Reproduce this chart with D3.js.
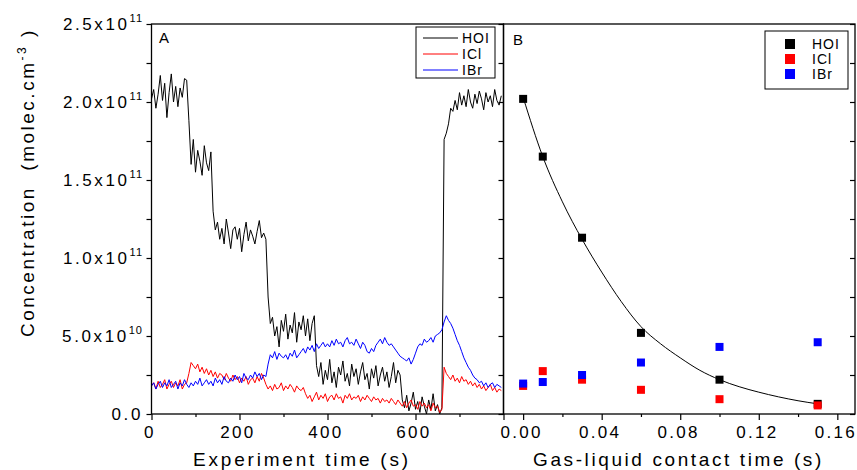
<!DOCTYPE html>
<html lang="en">
<head>
  <meta charset="UTF-8">
  <title>Concentration vs time</title>
  <script src="https://cdn.jsdelivr.net/npm/d3@7"></script>
  <style>
    body { margin: 0; background: #fff; }
    svg { display: block; font-family: "Liberation Sans", Arial, sans-serif; }
  </style>
</head>
<body>
  <div id="wrapper"></div>
  <script>
    // panel A traces, one reading every 5 s, values in 1e10 molec.cm-3
    const expTime = d3.range(0, 800, 5)
    const hoiTrace = [
      20.2, 20.8, 19.6, 20.5, 21.7, 20.1, 21.2, 19.0, 20.6, 21.8, 20.0, 21.0, 19.7, 20.9, 20.3, 21.5, 21.4,
      18.8, 16.0, 17.6, 15.5, 16.9, 16.2, 15.3, 17.2, 16.1, 15.6, 16.8,
      13.0, 11.8, 12.3, 11.2, 11.9, 10.9, 12.5, 11.6, 10.6, 11.8, 12.0, 11.2, 11.9, 10.4, 11.5, 12.3, 11.1, 11.8, 11.4, 10.9, 11.7, 12.4, 11.3, 11.6, 11.2,
      7.5, 5.8, 6.2, 5.0, 5.6, 4.3, 6.0, 5.3, 6.4, 4.8, 5.7, 5.2, 6.5, 4.6, 5.9, 5.4, 6.3, 5.0, 6.1, 4.7, 5.8, 6.3,
      3.1, 2.4, 3.3, 1.9, 2.8, 2.2, 3.5, 2.0, 2.7, 1.7, 3.0, 2.5, 3.4, 2.1, 2.6, 1.8, 3.2, 2.4, 2.9, 1.9, 2.7, 3.3, 2.2, 2.6, 1.6, 2.9, 2.3, 3.1, 1.8, 2.5, 3.0, 2.1, 2.7, 1.7, 2.4, 3.3, 2.0, 2.8, 2.5,
      0.9, 0.4, 1.2, 0.2, 0.7, 1.4, 0.3, 0.8, 0.1, 1.1, 0.5, 0.0, 0.9, 0.3, 1.3, 0.2, 0.6, 0.0, 0.4,
      17.6, 18.0, 18.6, 19.6, 19.4, 20.1, 19.5, 20.6, 19.8, 20.4, 19.7, 20.8, 20.0, 19.6, 20.5, 19.9, 20.7, 20.2, 19.5, 20.6, 20.0, 20.4, 19.7, 20.8, 20.1, 19.8, 20.4
    ]
    const iclTrace = [
      1.8, 2.0, 1.6, 2.1, 1.7, 1.9, 2.2, 1.6, 1.9, 2.1, 1.7, 2.0, 1.8, 2.2, 1.6, 1.9, 2.0,
      2.6, 3.3, 3.1,
      2.9, 3.2, 2.7, 3.0, 2.6, 2.9, 2.5, 2.8, 2.4, 2.7, 2.3, 2.6, 2.5, 2.2, 2.6, 2.3, 2.1, 2.5, 2.2, 2.4, 2.0, 2.3, 2.1, 2.4, 1.9, 2.2, 2.3, 2.0, 2.4, 2.1, 2.6, 2.3,
      1.9, 1.6, 1.8, 1.5, 1.9, 1.6, 1.7, 2.0, 1.5, 1.8, 1.6, 1.9, 1.7, 1.4, 1.8, 1.6, 1.5, 1.7,
      1.3, 1.0, 1.2, 0.8, 1.1, 1.4, 0.9, 1.2, 1.0, 1.3, 0.8, 1.1, 1.2, 0.9, 1.3, 1.0, 1.1, 0.7, 1.2, 1.0, 1.3, 0.9, 1.1, 1.0, 1.2, 0.8, 1.1, 0.9, 1.2, 1.0, 0.8, 1.1, 0.9, 1.0, 0.7, 1.0, 0.8, 0.9, 0.7, 1.0, 0.8, 0.6, 0.9,
      0.7, 0.5, 0.8, 0.4, 0.7, 0.9, 0.5, 0.6, 0.3, 0.8, 0.5, 0.7, 0.4, 0.6, 0.2, 0.7, 0.4, 0.5, 0.1, 0.3,
      3.0, 2.6, 2.4, 2.2, 2.5, 2.1, 2.3, 2.0, 2.4, 2.1, 2.2, 1.9, 2.1, 1.8, 2.0, 1.7, 1.9, 1.6, 1.8, 1.5, 1.7, 1.9, 1.5, 1.7, 1.4, 1.6, 1.5
    ]
    const ibrTrace = [
      1.8, 2.0, 1.6, 1.9, 2.1, 1.7, 2.0, 1.8, 2.2, 1.7, 1.9, 2.1, 1.6, 2.0, 1.8, 2.2, 1.9, 1.7,
      2.0, 1.8, 2.1, 1.9, 2.3, 1.8, 2.0, 2.2, 1.9, 2.1, 1.8, 2.3, 2.0, 2.2, 1.9, 2.4, 2.1, 2.0,
      2.3, 2.1, 2.5, 2.2, 2.4, 2.0, 2.6, 2.3, 2.2, 2.5, 2.3, 2.7, 2.4, 2.6, 2.2, 2.5,
      2.4, 3.2, 3.8, 3.6, 4.0, 3.5, 3.9, 3.7, 3.6,
      3.8, 3.5, 3.9, 3.7, 4.1, 3.6, 3.8, 4.0, 4.2, 3.9, 4.3, 4.1, 4.4, 4.0, 4.5, 4.2, 4.4, 4.6, 4.3,
      4.5, 4.3, 4.7, 4.4, 4.8, 4.5, 4.6, 4.3, 4.7, 4.9, 4.5, 4.6, 4.4, 4.8, 4.5, 4.2, 4.6, 4.4, 4.0, 3.9, 4.2,
      4.0, 4.4, 4.6, 4.8, 4.5, 4.9, 4.6, 4.4,
      4.5, 4.3, 4.1, 3.9, 3.7, 3.6, 3.5,
      3.4, 3.6, 3.2, 3.5, 3.9,
      4.3, 4.5, 4.4, 4.8, 4.6, 4.7, 4.9, 4.6, 5.0, 5.1,
      5.2, 5.4, 5.9, 6.3, 6.0, 5.8,
      5.5, 5.1, 4.7, 4.4, 4.0, 3.6, 3.3, 3.0, 2.8, 2.5, 2.3, 2.2,
      2.0, 2.1, 1.8, 2.0, 1.7, 1.9, 2.0, 1.7, 1.9, 1.8, 1.7
    ]

    // panel B points (s, 1e10 molec.cm-3)
    const contactTime = [0, 0.01, 0.03, 0.06, 0.10, 0.15]
    const hoiPoints = [20.2, 16.5, 11.3, 5.2, 2.2, 0.65]
    const iclPoints = [1.8, 2.75, 2.2, 1.55, 0.95, 0.55]
    const ibrPoints = [1.95, 2.05, 2.5, 3.3, 4.3, 4.6]
    const fitTime = [0, 0.01, 0.02, 0.03, 0.04, 0.05, 0.06, 0.07, 0.08, 0.09, 0.10, 0.11, 0.12, 0.13, 0.14, 0.15]
    const fitHoi = [20.3, 16.5, 13.6, 11.2, 9.1, 7.2, 5.6, 4.5, 3.6, 2.8, 2.2, 1.75, 1.4, 1.1, 0.85, 0.65]

    const yTicks = [0, 5, 10, 15, 20, 25]
    const yTickLabels = [['0.0', ''], ['5.0x10', '10'], ['1.0x10', '11'], ['1.5x10', '11'], ['2.0x10', '11'], ['2.5x10', '11']]
    const yMinorTicks = [2.5, 7.5, 12.5, 17.5, 22.5]
    const xTicksA = [0, 200, 400, 600, 800]
    const xLabelsA = ['0', '200', '400', '600', '']
    const xMinorA = [100, 300, 500, 700]
    const xTicksB = [0, 0.04, 0.08, 0.12, 0.16]
    const xLabelsB = ['0.00', '0.04', '0.08', '0.12', '0.16']
    const xMinorB = [0.02, 0.06, 0.10, 0.14]

    const species = ['HOI', 'ICl', 'IBr']
    const colors = ['#000000', '#ff0000', '#0000ff']

    const dimensions = { width: 857, height: 470, top: 24, bottom: 414, leftA: 151.5, mid: 503.5, right: 855 }

    const svg = d3.select('#wrapper')
      .append('svg')
        .attr('width', dimensions.width)
        .attr('height', dimensions.height)

    const yScale = d3.scaleLinear().domain([0, 25]).range([dimensions.bottom, dimensions.top])
    const xA = d3.scaleLinear().domain([0, 800]).range([dimensions.leftA, dimensions.mid])
    const xB = d3.scaleLinear().domain([-0.01, 0.169]).range([dimensions.mid, dimensions.right])

    // traces
    const traces = [hoiTrace, iclTrace, ibrTrace]
    traces.forEach((trace, i) => {
      const line = d3.line()
        .x((d, j) => xA(expTime[j]))
        .y(d => yScale(d))
      svg.append('path')
        .attr('d', line(trace))
        .attr('fill', 'none')
        .attr('stroke', colors[i])
        .attr('stroke-width', 1)
        .attr('stroke-linejoin', 'round')
    })

    // fit curve
    const fitLine = d3.line()
      .x((d, j) => xB(fitTime[j]))
      .y(d => yScale(d))
      .curve(d3.curveMonotoneX)
    svg.append('path')
      .attr('d', fitLine(fitHoi))
      .attr('fill', 'none')
      .attr('stroke', '#000')
      .attr('stroke-width', 1)

    const points = [hoiPoints, iclPoints, ibrPoints]
    points.forEach((vals, i) => {
      svg.append('g').selectAll('rect')
        .data(vals)
        .join('rect')
          .attr('x', (d, j) => xB(contactTime[j]) - 4)
          .attr('y', d => yScale(d) - 4)
          .attr('width', 8)
          .attr('height', 8)
          .attr('fill', colors[i])
    })

    // axes
    const addAxis = (gen, x, y) => {
      const g = svg.append('g')
        .attr('transform', `translate(${x},${y})`)
        .call(gen)
      g.select('.domain').remove()
      g.selectAll('line').attr('stroke', '#000').attr('stroke-width', 1.2)
      return g
    }
    addAxis(d3.axisLeft(yScale).tickValues(yTicks.concat(yMinorTicks)).tickSize(5).tickFormat(''), dimensions.leftA, 0)
    addAxis(d3.axisLeft(yScale).tickValues(yTicks.concat(yMinorTicks)).tickSize(5).tickFormat(''), dimensions.mid, 0)
    addAxis(d3.axisLeft(yScale).tickValues(yTicks.concat(yMinorTicks)).tickSize(5).tickFormat(''), dimensions.right, 0)
    addAxis(d3.axisBottom(xA).tickValues(xTicksA).tickSize(6).tickFormat(''), 0, dimensions.bottom)
    addAxis(d3.axisBottom(xA).tickValues(xMinorA).tickSize(3).tickFormat(''), 0, dimensions.bottom)
    addAxis(d3.axisBottom(xB).tickValues(xTicksB).tickSize(6).tickFormat(''), 0, dimensions.bottom)
    addAxis(d3.axisBottom(xB).tickValues(xMinorB).tickSize(3).tickFormat(''), 0, dimensions.bottom)

    // frames
    svg.append('rect')
      .attr('x', dimensions.leftA).attr('y', dimensions.top)
      .attr('width', dimensions.mid - dimensions.leftA).attr('height', dimensions.bottom - dimensions.top)
      .attr('fill', 'none').attr('stroke', '#000').attr('stroke-width', 1.3)
    svg.append('rect')
      .attr('x', dimensions.mid).attr('y', dimensions.top)
      .attr('width', dimensions.right - dimensions.mid).attr('height', dimensions.bottom - dimensions.top)
      .attr('fill', 'none').attr('stroke', '#000').attr('stroke-width', 1.3)

    // y tick labels
    yTicks.forEach((v, i) => {
      const t = svg.append('text')
        .attr('x', 143)
        .attr('y', yScale(v) + 6)
        .attr('text-anchor', 'end')
        .attr('font-size', 17)
        .attr('fill', '#000')
      t.append('tspan').attr('letter-spacing', 2.6).text(yTickLabels[i][0])
      if (yTickLabels[i][1]) {
        t.append('tspan').attr('dy', -8).attr('font-size', 11).attr('letter-spacing', 1).text(yTickLabels[i][1])
      }
    })

    const xLabel = (scale, ticks, labels) => {
      svg.append('g').selectAll('text')
        .data(ticks)
        .join('text')
          .attr('x', d => scale(d) - 1.5)
          .attr('y', 438)
          .attr('text-anchor', 'middle')
          .attr('font-size', 17)
          .attr('letter-spacing', 2.3)
          .text((d, i) => labels[i])
    }
    xLabel(xA, xTicksA, xLabelsA)
    xLabel(xB, xTicksB, xLabelsB)

    // axis titles
    svg.append('text')
      .attr('x', 193).attr('y', 466)
      .attr('font-size', 19).attr('letter-spacing', 2.8)
      .text('Experiment time (s)')
    svg.append('text')
      .attr('x', 533).attr('y', 466)
      .attr('font-size', 19).attr('letter-spacing', 2.6)
      .text('Gas-liquid contact time (s)')

    const yTitle = svg.append('text')
      .attr('transform', 'translate(34,337) rotate(-90)')
      .attr('font-size', 19)
      .attr('letter-spacing', 2.5)
      .style('white-space', 'pre')
    yTitle.append('tspan').text('Concentration  (molec.cm')
    yTitle.append('tspan').attr('dy', -8).attr('font-size', 12).text('-3')
    yTitle.append('tspan').attr('dy', 8).text(' )')

    // panel letters
    svg.append('text').attr('x', 159).attr('y', 43).attr('font-size', 15).text('A')
    svg.append('text').attr('x', 513).attr('y', 45).attr('font-size', 15).text('B')

    // legend A
    const legA = svg.append('g')
    legA.append('rect').attr('x', 416).attr('y', 27).attr('width', 79).attr('height', 51)
      .attr('fill', '#fff').attr('stroke', '#000').attr('stroke-width', 1)
    species.forEach((s, i) => {
      const ly = 38 + i * 16
      legA.append('line').attr('x1', 423).attr('x2', 458).attr('y1', ly).attr('y2', ly)
        .attr('stroke', colors[i]).attr('stroke-width', 1)
      legA.append('text').attr('x', 462).attr('y', ly + 5).attr('font-size', 14)
        .attr('letter-spacing', 1).text(s)
    })

    // legend B
    const legB = svg.append('g')
    legB.append('rect').attr('x', 765).attr('y', 31).attr('width', 83).attr('height', 58)
      .attr('fill', '#fff').attr('stroke', '#000').attr('stroke-width', 1)
    species.forEach((s, i) => {
      const ly = 44 + i * 15
      legB.append('rect').attr('x', 785).attr('y', ly - 5).attr('width', 10).attr('height', 10)
        .attr('fill', colors[i])
      legB.append('text').attr('x', 812).attr('y', ly + 5).attr('font-size', 14)
        .attr('letter-spacing', 1).text(s)
    })
  </script>
</body>
</html>
